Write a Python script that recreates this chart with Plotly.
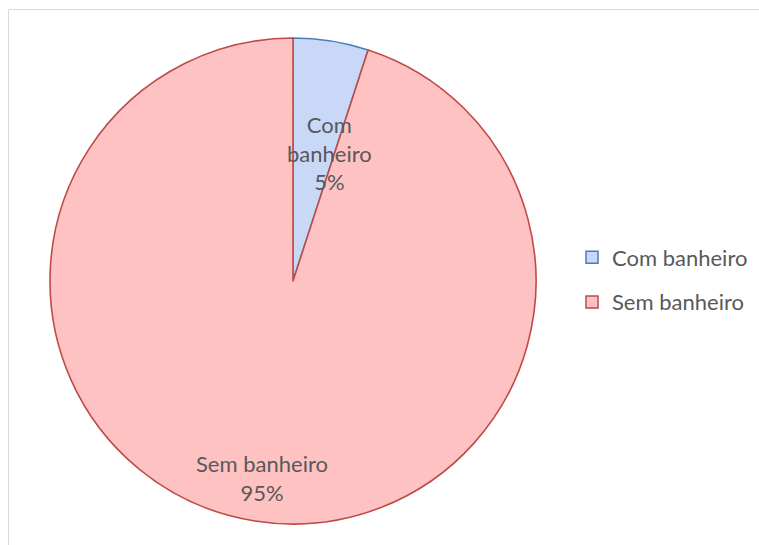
import math
import plotly.graph_objects as go

# Share of households with / without a bathroom
labels = ["Com banheiro", "Sem banheiro"]
values = [5, 95]
label_text = ["Com<br>banheiro", "Sem banheiro"]

# Styling
fill_colors = ["#C9D8F6", "#FFC2C2"]
line_colors = ["#4A7EBB", "#BE4B48"]
text_color = "#595959"
font_family = "Lato, 'Open Sans', sans-serif"

W, H = 759, 545
cx, cy, R = 293, 281, 243  # pie centre and radius in pixels

fig = go.Figure()
fig.add_trace(go.Pie(
    labels=labels,
    values=values,
    sort=False,
    direction="clockwise",
    rotation=0,
    textinfo="none",
    hoverinfo="label+percent",
    showlegend=False,
    marker=dict(colors=fill_colors, line=dict(color=line_colors, width=1.6)),
    domain=dict(x=[(cx - R) / W, (cx + R) / W],
                y=[1 - (cy + R) / H, 1 - (cy - R) / H]),
))

# Legend entries (one group per category so they can be spaced apart)
for lab, fc, lc in zip(labels, fill_colors, line_colors):
    fig.add_trace(go.Scatter(
        x=[None], y=[None], mode="markers", name=lab, legendgroup=lab,
        marker=dict(symbol="square", size=12, color=fc,
                    line=dict(color=lc, width=1.5)),
        showlegend=True,
    ))

# Data labels placed along each slice's mid-angle
radial_frac = [0.55, 0.82]
angle_shift = [7, 0]
total = sum(values)
start = 0.0
for i, v in enumerate(values):
    mid = start + v / total * 360 / 2 + angle_shift[i]
    start += v / total * 360
    a = math.radians(mid)
    px = cx + radial_frac[i] * R * math.sin(a)
    py = cy - radial_frac[i] * R * math.cos(a)
    pct = round(v / total * 100)
    fig.add_annotation(
        x=px / W, y=1 - py / H, xref="paper", yref="paper",
        xanchor="center", yanchor="middle",
        text=f"{label_text[i]}<br>{pct}%", showarrow=False,
        font=dict(family=font_family, size=22, color=text_color),
        align="center",
    )

# Chart-area border
fig.add_shape(type="rect", xref="paper", yref="paper",
              x0=8.5 / W, x1=1.02, y0=-0.02, y1=1 - 9.5 / H,
              line=dict(color="#D9D9D9", width=1), fillcolor="rgba(0,0,0,0)")

fig.update_layout(
    width=W, height=H,
    margin=dict(l=0, r=0, t=0, b=0),
    paper_bgcolor="white",
    plot_bgcolor="rgba(0,0,0,0)",
    xaxis=dict(visible=False),
    yaxis=dict(visible=False),
    showlegend=True,
    legend=dict(x=572 / W, y=1 - 280 / H, xanchor="left", yanchor="middle",
                font=dict(family=font_family, size=22, color=text_color),
                bgcolor="rgba(0,0,0,0)", itemwidth=30, tracegroupgap=13),
)

fig.write_html("out.html")
